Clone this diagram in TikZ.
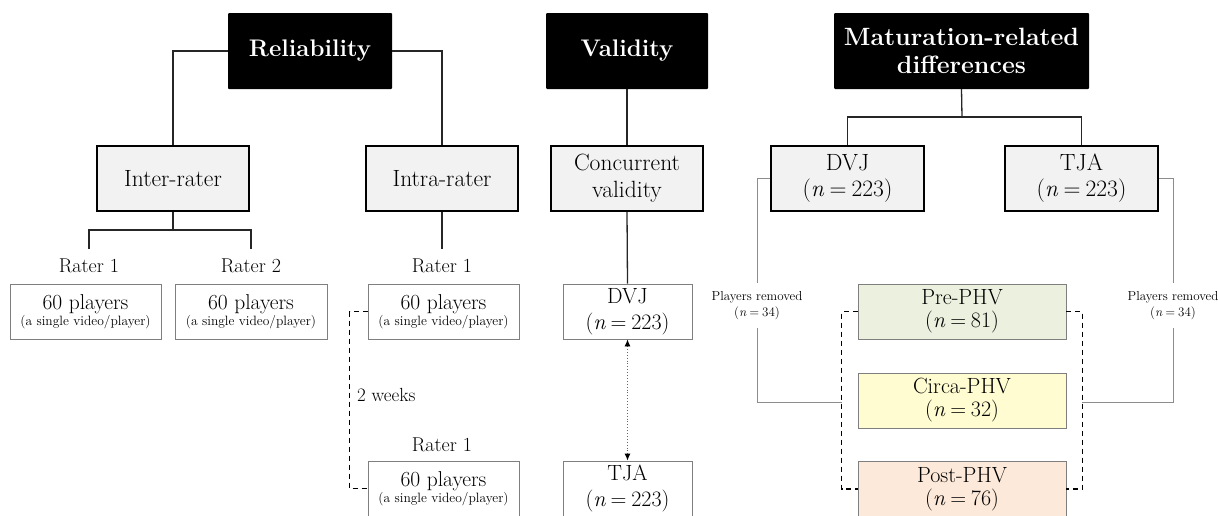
\documentclass[tikz,border=0pt]{standalone}
\usepackage{fontspec}
\usetikzlibrary{arrows.meta}
\definecolor{subfill}{HTML}{F2F2F2}
\definecolor{prefill}{HTML}{EBF1DE}
\definecolor{circafill}{HTML}{FEFCD0}
\definecolor{postfill}{HTML}{FDE9D9}
\definecolor{thinbord}{HTML}{7F7F7F}
\definecolor{grayline}{HTML}{8C8C8C}
\tikzset{
  headbox/.style={fill=black, text=white, font=\bfseries\fontsize{24}{28}\selectfont, align=center, minimum height=76pt, rounded corners=1pt, inner sep=0pt},
  subbox/.style={draw=black, line width=1.8pt, fill=subfill, font=\fontsize{23.5}{27}\selectfont, align=center, minimum width=152pt, minimum height=65pt, inner sep=0pt},
  smallbox/.style={draw=thinbord, line width=0.9pt, fill=white, align=center, minimum height=55pt, inner sep=0pt},
  raterlbl/.style={font=\fontsize{20}{23}\selectfont, inner xsep=0pt, inner ysep=10pt},
  rmlbl/.style={font=\fontsize{13}{16}\selectfont, align=center, inner xsep=0pt, inner ysep=8pt},
  tree/.style={line width=1.3pt, draw=black!85},
  gline/.style={line width=0.9pt, draw=grayline},
  bracket/.style={line width=1.3pt, dashed, dash pattern=on 5pt off 4pt},
  dotarrow/.style={line width=0.9pt, dotted, draw=black!60, {Latex[length=7pt,width=6pt,black]}-{Latex[length=7pt,width=6pt,black]}}
}
\newcommand{\bigtxt}[1]{{\fontsize{21.5}{19}\selectfont #1}}
\newcommand{\smltxt}[1]{{\fontsize{13.5}{13}\selectfont #1}}
\newcommand{\nn}[1]{(\textit{n}\hspace{0.22em}=\hspace{0.22em}#1)}
\begin{document}
\begin{tikzpicture}[x=1pt,y=-1pt]
\useasboundingbox (0,0) rectangle (1218,515);
% headers
\node[headbox, minimum width=164pt] (rel) at (310,51) {Reliability};
\node[headbox, minimum width=162pt] (val) at (627,51) {Validity};
\node[headbox, minimum width=255pt, font=\bfseries\fontsize{25}{28}\selectfont] (mat) at (961.5,51) {Maturation-related\\differences};
% sub boxes
\node[subbox] (inter) at (173,178.5) {Inter-rater};
\node[subbox] (intra) at (442,178.5) {Intra-rater};
\node[subbox] (conc) at (627,178.5) {Concurrent\\validity};
\node[subbox, minimum width=153pt, font=\fontsize{23.5}{26}\selectfont] (mdvj) at (847.5,178.5) {DVJ\\\nn{223}};
\node[subbox, minimum width=153pt, font=\fontsize{23.5}{26}\selectfont] (mtja) at (1081.5,178.5) {TJA\\\nn{223}};
% rater labels
\node[raterlbl] (ra) at (89,266) {Rater 1};
\node[raterlbl] (rb) at (251,266) {Rater 2};
\node[raterlbl] (rc) at (442,266) {Rater 1};
\node[raterlbl] (rd) at (442,445) {Rater 1};
% player boxes
\node[smallbox, minimum width=151pt] (p1) at (85.5,311.5) {\bigtxt{60 players}\\\smltxt{(a single video/player)}};
\node[smallbox, minimum width=152pt] (p2) at (251,311.5) {\bigtxt{60 players}\\\smltxt{(a single video/player)}};
\node[smallbox, minimum width=151pt] (p3) at (443.5,311.5) {\bigtxt{60 players}\\\smltxt{(a single video/player)}};
\node[smallbox, minimum width=151pt] (p4) at (443.5,488.5) {\bigtxt{60 players}\\\smltxt{(a single video/player)}};
% validity boxes
\node[smallbox, minimum width=129pt, font=\fontsize{22}{26}\selectfont] (vdvj) at (627.5,311.5) {DVJ\\\nn{223}};
\node[smallbox, minimum width=129pt, font=\fontsize{22}{26}\selectfont] (vtja) at (627.5,488.5) {TJA\\\nn{223}};
% maturation groups
\node[smallbox, minimum width=208pt, fill=prefill, font=\fontsize{22}{23}\selectfont] (pre) at (962,311.5) {Pre-PHV\\\nn{81}};
\node[smallbox, minimum width=208pt, fill=circafill, font=\fontsize{22}{23}\selectfont] (circa) at (962,400.5) {Circa-PHV\\\nn{32}};
\node[smallbox, minimum width=208pt, fill=postfill, font=\fontsize{22}{23}\selectfont] (post) at (962,489) {Post-PHV\\\nn{76}};
% removed labels
\node[rmlbl] (rm1) at (757,305.5) {Players removed\\\nn{34}};
\node[rmlbl] (rm2) at (1173,305.5) {Players removed\\\nn{34}};
\node[anchor=west, font=\fontsize{19}{20}\selectfont, inner sep=0pt] (wk) at (357,395) {2 weeks};
% tree connectors
\draw[tree] (rel.west) -| (inter.north);
\draw[tree] (rel.east) -| (intra.north);
\coordinate (ij) at (173,230);
\draw[tree] (inter.south) -- (ij);
\draw[tree] (ra.north) |- (ij) -| (rb.north);
\draw[tree] (intra.south) -- (rc.north);
\draw[tree] (val.south) -- (conc.north);
\draw[tree] (conc.south) -- (vdvj.north);
\coordinate (mj) at (962,117);
\draw[tree] (mat.south) -- (mj);
\draw[tree] (mdvj.north) |- (mj) -| (mtja.north);
% dotted double arrow
\draw[dotarrow] (vdvj.south) -- (vtja.north);
% dashed brackets
\draw[bracket] (p3.west) -- ++(-18,0) |- (p4.west);
\draw[bracket] (pre.west) -- ++(-16,0) |- (post.west);
\draw[bracket] (pre.east) -- ++(16,0) |- (post.east);
% gray removal lines
\coordinate (lb) at (842,402);
\coordinate (rbk) at (1082,402);
\draw[gline] (mdvj.west) -| (rm1.north);
\draw[gline] (rm1.south) |- (lb);
\draw[gline] (mtja.east) -| (rm2.north);
\draw[gline] (rm2.south) |- (rbk);
\end{tikzpicture}
\end{document}
